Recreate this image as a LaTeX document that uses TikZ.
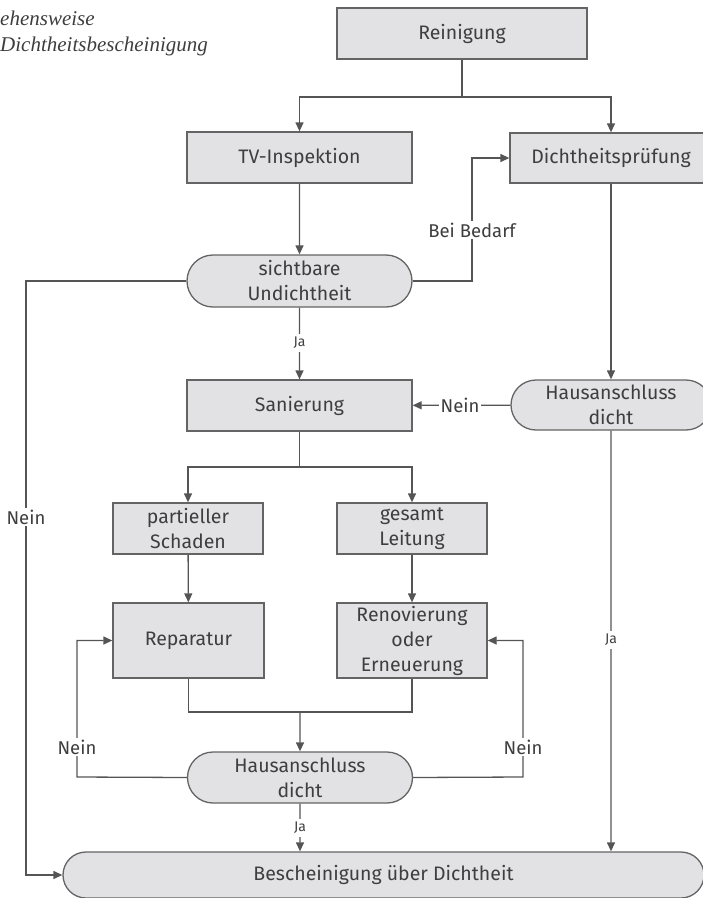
\documentclass[tikz,border=0pt]{standalone}
\usepackage{fontspec}
\setmainfont{Fira Sans}
\newfontfamily\titlefont{Liberation Serif}
\usetikzlibrary{arrows.meta,shapes.misc}

\definecolor{boxfill}{RGB}{226,226,228}
\definecolor{boxline}{RGB}{100,100,100}
\definecolor{conline}{RGB}{85,85,85}
\definecolor{txt}{RGB}{62,62,62}

\tikzset{
  box/.style={rectangle, draw=boxline, fill=boxfill, line width=1.3pt, text=txt,
    align=center, inner sep=0pt, font=\fontsize{19.5}{25}\selectfont},
  pill/.style={rounded rectangle, draw=boxline, fill=boxfill, line width=1.3pt, text=txt,
    align=center, inner sep=0pt, font=\fontsize{19.5}{25}\selectfont},
  conn/.style={draw=conline, line width=1.3pt},
  arr/.style={conn, -{Triangle[length=9pt,width=8pt]}},
  lbl/.style={fill=white, text=txt, inner sep=2pt, font=\fontsize{18.5}{20}\selectfont},
  jalbl/.style={fill=white, text=txt, inner xsep=1pt, inner ysep=3pt, font=\fontsize{14}{15}\selectfont}
}

\begin{document}
\begin{tikzpicture}[x=1pt,y=-1pt]
\useasboundingbox (0,0) rectangle (703,898);

%Title
\node[anchor=west, text=txt, inner sep=0pt] (title1) at (0,18) {\titlefont\itshape\fontsize{21}{24}\selectfont ehensweise};
\node[anchor=west, text=txt, inner sep=0pt] (title2) at (0,46) {\titlefont\itshape\fontsize{21}{24}\selectfont Dichtheitsbescheinigung};

%Boxes
\node[box, minimum width=250, minimum height=51] (rein) at (462,33.5) {Reinigung};
\node[box, minimum width=225, minimum height=51] (tv) at (299.5,157.5) {TV-Inspektion};
\node[box, minimum width=202, minimum height=50] (dicht) at (611,158) {Dichtheitsprüfung};
\node[pill, minimum width=225, minimum height=52] (sicht) at (299.5,281) {sichtbare\\Undichtheit};
\node[box, minimum width=225, minimum height=51] (san) at (299.5,405.5) {Sanierung};
\node[pill, minimum width=200, minimum height=50] (hausR) at (611,405) {Hausanschluss\\dicht};
\node[box, minimum width=150, minimum height=51] (part) at (188,528.5) {partieller\\Schaden};
\node[box, minimum width=150, minimum height=51] (ges) at (412,528.5) {gesamt\\Leitung};
\node[box, minimum width=151, minimum height=75] (rep) at (188.5,640.5) {Reparatur};
\node[box, minimum width=150, minimum height=75] (ren) at (412,640.5) {Renovierung\\oder\\Erneuerung};
\node[pill, minimum width=225, minimum height=51] (hausU) at (300,777.5) {Hausanschluss\\dicht};
\node[pill, minimum width=641, minimum height=46] (besch) at (383.5,875) {Bescheinigung über Dichtheit};

%Reinigung -> TV-Inspektion / Dichtheitspruefung
\coordinate (split1) at (462,97);
\draw[conn] (rein) -- (split1);
\draw[arr] (split1) -| (tv);
\draw[arr] (split1) -| (dicht);

\draw[arr] (tv) -- (sicht);

%Bei Bedarf
\coordinate (bb) at (472,281);
\draw[arr] (sicht.east) -- (bb) |- (dicht.west);
\node[lbl] (bedarf) at (472,230) {Bei Bedarf};

%Ja -> Sanierung
\draw[arr] (sicht) -- (san);
\node[jalbl] (ja1) at (299.5,343) {Ja};

\draw[arr] (dicht) -- (hausR);
\draw[arr] (hausR) -- (san);
\node[lbl] (nein1) at (460,405) {Nein};

%Sanierung -> partieller Schaden / gesamt Leitung
\coordinate (split2) at (299.5,467);
\draw[conn] (san) -- (split2);
\draw[arr] (split2) -| (part);
\draw[arr] (split2) -| (ges);
\draw[arr] (part) -- (rep);
\draw[arr] (ges) -- (ren);

%join
\coordinate (join) at (300,712);
\draw[conn] (rep.south) |- (join) -| (ren.south);
\draw[arr] (join) -- (hausU);

%Nein loops
\coordinate (loopL) at (77,777);
\coordinate (loopR) at (523,777);
\draw[arr] (hausU.west) -- (loopL) |- (rep.west);
\draw[arr] (hausU.east) -- (loopR) |- (ren.east);
\node[lbl] (nein2) at (77,747) {Nein};
\node[lbl] (nein3) at (523,747) {Nein};

%Ja -> Bescheinigung
\draw[arr] (hausU) -- (hausU |- besch.north);
\node[jalbl] (ja2) at (300,828) {Ja};

%outer Nein
\coordinate (outL) at (26,281);
\draw[arr] (sicht.west) -- (outL) |- (besch.west);
\node[lbl] (nein4) at (26,517) {Nein};

%right Ja
\draw[arr] (hausR) -- (hausR |- besch.north);
\node[jalbl] (ja3) at (611,640) {Ja};

\end{tikzpicture}
\end{document}
